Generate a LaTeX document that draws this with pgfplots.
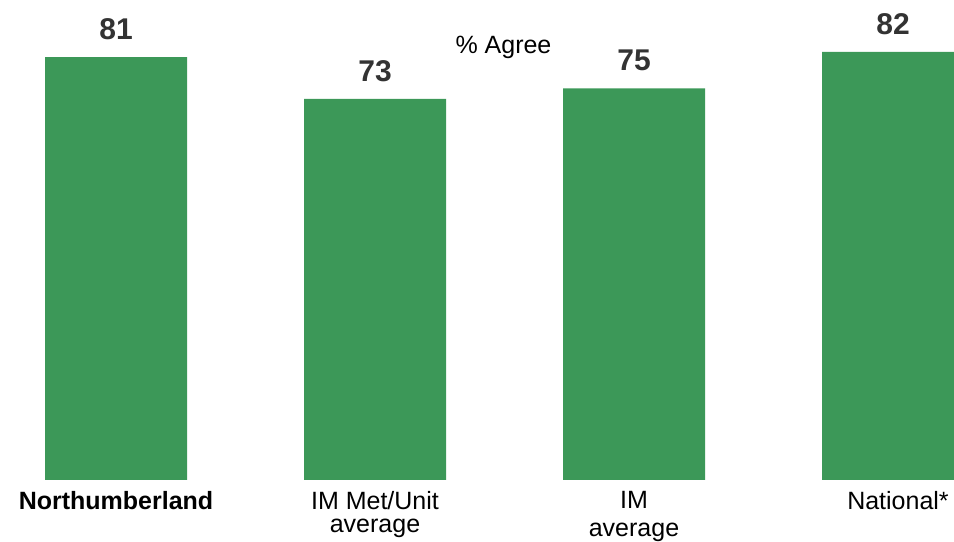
\documentclass[border=0pt]{standalone}
\usepackage{pgfplots}
\pgfplotsset{compat=1.18}
\usepackage{fontspec}
\setmainfont{Liberation Sans}

\definecolor{bargreen}{RGB}{60,152,88}
\definecolor{valgray}{RGB}{51,51,51}

\begin{document}
\begin{tikzpicture}
\useasboundingbox (0,0) rectangle (954bp,542bp);
\begin{axis}[
  at={(0,62bp)}, anchor=south west,
  scale only axis,
  width=954bp, height=480bp,
  xmin=-0.4479, xmax=3.2355,
  ymin=0, ymax=91.95,
  axis line style={draw=none},
  major tick length=0pt,
  ytick=\empty,
  xtick={0,1,2,3},
  xticklabels={
    {\bfseries Northumberland},
    {IM Met/Unit\\[-2.5bp]average},
    {IM\\[2.5bp]average},
    {\hspace*{10bp}National*}},
  xticklabel style={
    font=\fontsize{25bp}{26bp}\selectfont,
    align=center, anchor=north, inner sep=0pt,
    yshift=-11bp},
  ybar, bar width=142bp,
  nodes near coords={\pgfmathprintnumber[assume math mode=true]{\pgfplotspointmeta}},
  every node near coord/.append style={
    font=\bfseries\fontsize{30bp}{30bp}\selectfont,
    text=valgray, anchor=base, inner sep=0pt, yshift=17.7bp},
  clip=true,
]
\addplot[fill=bargreen, draw=none] coordinates {(0,81) (1,73) (2,75) (3,82)};
\node[anchor=base, inner sep=0pt, font=\fontsize{25bp}{26bp}\selectfont]
  at (axis cs:1.496,81.74) {\% Agree};
\end{axis}
\end{tikzpicture}
\end{document}
